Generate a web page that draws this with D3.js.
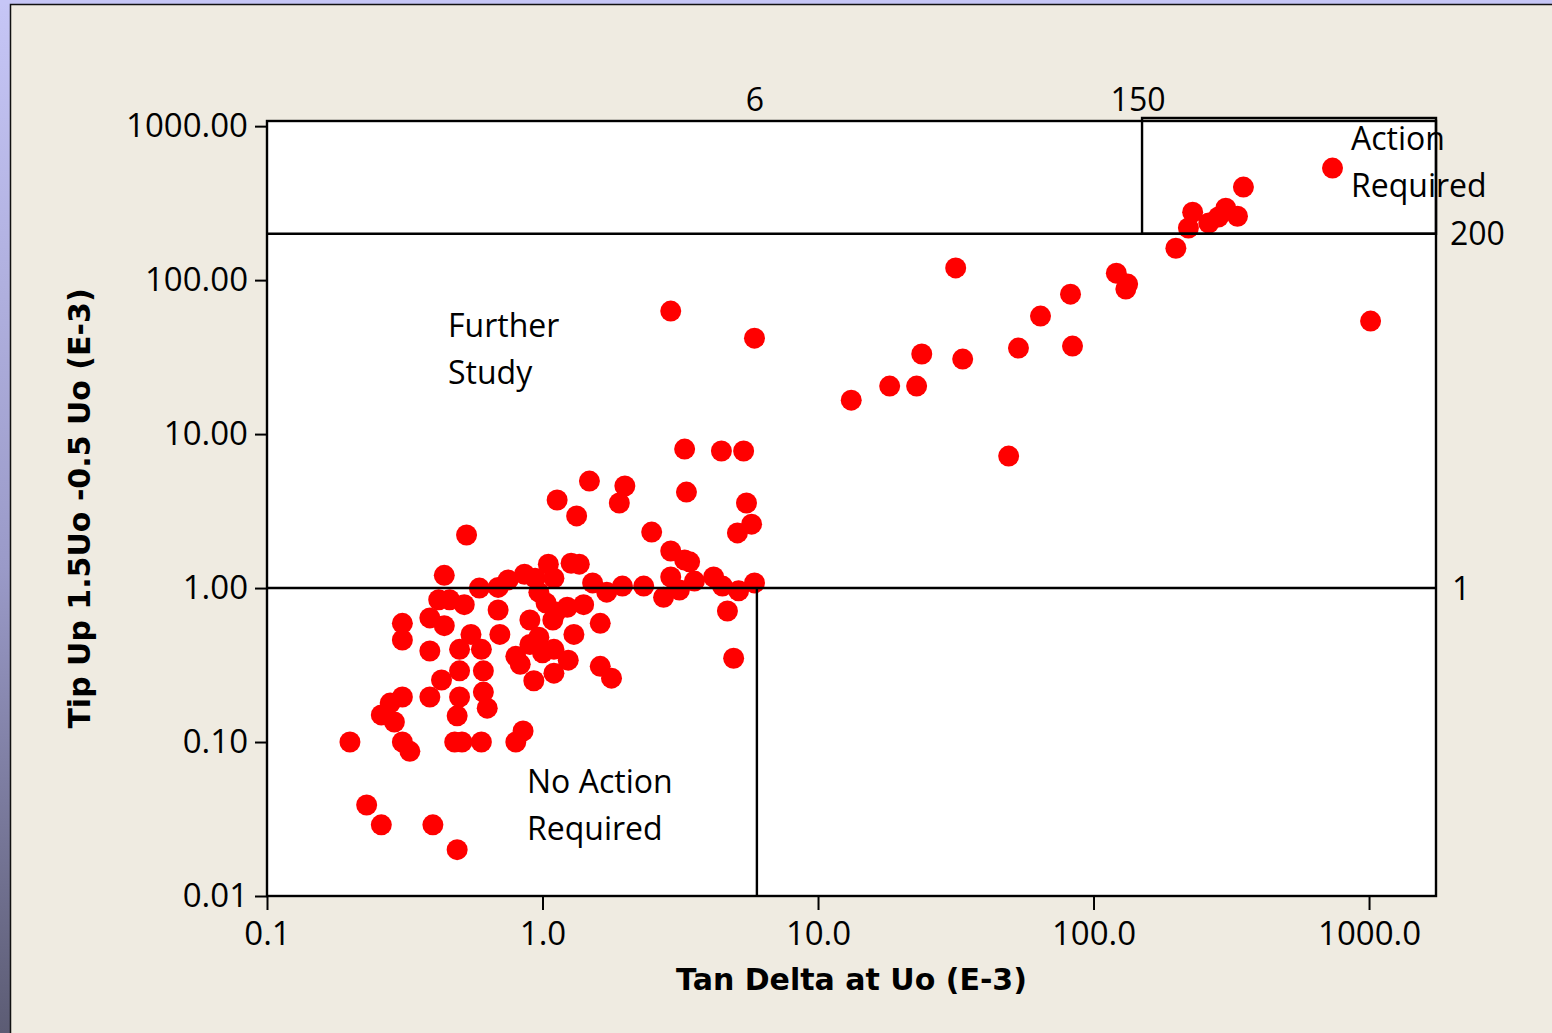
<!DOCTYPE html>
<html>
<head>
<meta charset="utf-8">
<script src="https://cdn.jsdelivr.net/npm/d3@7/dist/d3.min.js"></script>
<style>
  html, body { margin: 0; padding: 0; background: #EFEBE1; }
  svg { display: block; }
  .tick text { font-family: "Open Sans", "Noto Sans", sans-serif; font-size: 33px; fill: #000; }
  .tick line { stroke: #000; stroke-width: 2; }
  .note { font-family: "Open Sans", "Noto Sans", sans-serif; font-size: 32px; fill: #000; }
  .title { font-family: "DejaVu Sans", sans-serif; font-weight: bold; font-size: 30px; fill: #000; }
</style>
</head>
<body>
<svg id="chart" width="1552" height="1033"></svg>
<script>
// Tan delta at Uo (E-3) and tip up 1.5Uo - 0.5Uo (E-3), one entry per measured item
const tanDelta = [
  0.20, 0.23, 0.26, 0.26, 0.29, 0.28, 0.31, 0.31, 0.33, 0.31,
  0.31, 0.39, 0.39, 0.39, 0.40, 0.43, 0.44, 0.42, 0.46, 0.52,
  0.44, 0.55, 0.50, 0.60, 0.50, 0.61, 0.50, 0.61, 0.63, 0.49,
  0.48, 0.51, 0.60, 0.49, 0.53, 0.59, 0.69, 0.75, 0.69, 0.70,
  0.80, 0.85, 0.80, 0.83, 0.86, 0.94, 1.05, 1.27, 1.36, 1.10,
  0.97, 1.03, 1.12, 1.23, 1.41, 0.90, 1.09, 1.30, 1.62, 0.97,
  0.90, 1.10, 1.00, 1.24, 1.10, 0.93, 1.62, 1.78, 1.52, 1.71,
  1.95, 2.33, 2.92, 2.75, 3.14, 3.56, 4.18, 4.50, 5.15, 5.88,
  4.69, 4.94, 2.92, 3.28, 3.42, 2.49, 1.13, 1.33, 1.48, 1.99,
  1.90, 3.33, 3.28, 4.46, 5.37, 5.50, 5.74, 5.10, 2.92, 5.88,
  13.2, 18.2, 22.8, 23.8, 33.5, 31.6, 49.2, 53.4, 64.2, 83.9,
  82.5, 121, 133, 131, 199, 221, 229, 262, 284, 302,
  333, 350, 737, 1013
];
const tipUp = [
  0.100, 0.039, 0.029, 0.150, 0.135, 0.179, 0.196, 0.100, 0.087, 0.59,
  0.46, 0.64, 0.39, 0.196, 0.029, 0.253, 1.21, 0.84, 0.84, 0.78,
  0.57, 0.50, 0.40, 0.40, 0.29, 0.29, 0.196, 0.211, 0.166, 0.148,
  0.100, 0.100, 0.100, 0.020, 2.21, 1.00, 1.01, 1.13, 0.72, 0.50,
  0.100, 0.118, 0.36, 0.32, 1.23, 1.16, 1.43, 1.45, 1.43, 1.16,
  0.94, 0.80, 0.70, 0.75, 0.78, 0.62, 0.62, 0.50, 0.59, 0.48,
  0.43, 0.40, 0.38, 0.34, 0.28, 0.25, 0.31, 0.26, 1.08, 0.94,
  1.03, 1.03, 1.18, 0.87, 0.97, 1.11, 1.18, 1.03, 0.96, 1.08,
  0.71, 0.35, 1.74, 1.52, 1.48, 2.31, 3.73, 2.94, 4.95, 4.60,
  3.57, 4.20, 7.99, 7.76, 7.76, 3.57, 2.60, 2.28, 62.9, 42.0,
  16.6, 20.5, 20.5, 33.1, 30.7, 120, 7.2, 36.2, 58.4, 37.3,
  81.1, 111, 94.2, 87.4, 161, 218, 276, 235, 257, 293,
  260, 402, 534, 54.2
];

// Axis ticks and their printed labels
const xTickValues = [0.1, 1, 10, 100, 1000];
const xTickLabels = ["0.1", "1.0", "10.0", "100.0", "1000.0"];
const yTickValues = [0.01, 0.1, 1, 10, 100, 1000];
const yTickLabels = ["0.01", "0.10", "1.00", "10.00", "100.00", "1000.00"];

// Decision limits
const tanDeltaLimits = [6, 150];
const tipUpLimits = [1, 200];
const actionBoxTop = 1130;

const xDomain = [0.1, 1750];
const yDomain = [0.01, 1080];

const W = 1552, H = 1033;
const plot = { left: 267, right: 1436, top: 121, bottom: 896 };

const svg = d3.select("#chart");
const defs = svg.append("defs");
const grad = defs.append("linearGradient").attr("id", "edge").attr("x1", 0).attr("y1", 0).attr("x2", 0).attr("y2", 1);
grad.append("stop").attr("offset", "0%").attr("stop-color", "#C6C6F6");
grad.append("stop").attr("offset", "55%").attr("stop-color", "#9A9AC8");
grad.append("stop").attr("offset", "100%").attr("stop-color", "#5C5C74");

// Slide frame
svg.append("rect").attr("x", 0).attr("y", 0).attr("width", W).attr("height", H).attr("fill", "url(#edge)");
svg.append("rect").attr("x", 0).attr("y", 0).attr("width", W).attr("height", 5).attr("fill", "#C6C6F6");
svg.append("rect").attr("x", 10.5).attr("y", 4.5).attr("width", W).attr("height", H)
  .attr("fill", "#EFEBE1").attr("stroke", "#111").attr("stroke-width", 1.5);

const x = d3.scaleLog().domain(xDomain).range([plot.left, plot.right]);
const y = d3.scaleLog().domain(yDomain).range([plot.bottom, plot.top]);

// Plot area
svg.append("rect").attr("x", plot.left).attr("y", plot.top)
  .attr("width", plot.right - plot.left).attr("height", plot.bottom - plot.top)
  .attr("fill", "#fff");

// Data points
svg.append("g").selectAll("circle")
  .data(tanDelta.map((d, i) => [d, tipUp[i]]))
  .join("circle")
  .attr("cx", d => x(d[0]))
  .attr("cy", d => y(d[1]))
  .attr("r", 10.5)
  .attr("fill", "#FF0000");

// Zone boundaries
const zones = svg.append("g").attr("stroke", "#000").attr("stroke-width", 2.4).attr("fill", "none");
zones.append("line").attr("x1", x(xDomain[0])).attr("x2", x(xDomain[1]))
  .attr("y1", y(tipUpLimits[1])).attr("y2", y(tipUpLimits[1]));
zones.append("line").attr("x1", x(xDomain[0])).attr("x2", x(xDomain[1]))
  .attr("y1", y(tipUpLimits[0])).attr("y2", y(tipUpLimits[0]));
zones.append("line").attr("x1", x(tanDeltaLimits[0])).attr("x2", x(tanDeltaLimits[0]))
  .attr("y1", y(tipUpLimits[0])).attr("y2", y(yDomain[0]));
zones.append("rect").attr("x", x(tanDeltaLimits[1])).attr("y", y(actionBoxTop))
  .attr("width", x(xDomain[1]) - x(tanDeltaLimits[1]))
  .attr("height", y(tipUpLimits[1]) - y(actionBoxTop));

// Plot border
svg.append("rect").attr("x", plot.left).attr("y", plot.top)
  .attr("width", plot.right - plot.left).attr("height", plot.bottom - plot.top)
  .attr("fill", "none").attr("stroke", "#000").attr("stroke-width", 2.4);

// Axes
const xAxis = d3.axisBottom(x).tickValues(xTickValues)
  .tickFormat((d, i) => xTickLabels[i]).tickSize(14).tickPadding(12);
svg.append("g").attr("transform", `translate(0,${plot.bottom})`).call(xAxis)
  .call(g => g.select(".domain").remove());

const yAxis = d3.axisLeft(y).tickValues(yTickValues)
  .tickFormat((d, i) => yTickLabels[i]).tickSize(12).tickPadding(7);
svg.append("g").attr("transform", `translate(${plot.left},0)`).call(yAxis)
  .call(g => g.select(".domain").remove());

// Limit values printed beside the zone lines
const notes = svg.append("g");
notes.append("text").attr("class", "note").attr("text-anchor", "middle")
  .attr("x", x(tanDeltaLimits[0]) - 2).attr("y", plot.top - 10).text(tanDeltaLimits[0]);
notes.append("text").attr("class", "note").attr("text-anchor", "middle")
  .attr("x", x(tanDeltaLimits[1]) - 4).attr("y", plot.top - 10).text(tanDeltaLimits[1]);
notes.append("text").attr("class", "note").attr("x", plot.right + 14)
  .attr("y", y(tipUpLimits[1])).attr("dy", "0.36em").text(tipUpLimits[1]);
notes.append("text").attr("class", "note").attr("x", plot.right + 16)
  .attr("y", y(tipUpLimits[0])).attr("dy", "0.36em").text(tipUpLimits[0]);

// Zone names
function zoneLabel(lines, px, py) {
  const t = notes.append("text").attr("class", "note").attr("x", px).attr("y", py);
  lines.forEach((s, i) => t.append("tspan").attr("x", px).attr("dy", i === 0 ? 0 : 47).text(s));
}
zoneLabel(["Further", "Study"], 448, 337);
zoneLabel(["No Action", "Required"], 527, 793);
zoneLabel(["Action", "Required"], 1351, 150);

// Axis titles
svg.append("text").attr("class", "title").attr("text-anchor", "middle")
  .attr("x", (plot.left + plot.right) / 2).attr("y", 990).text("Tan Delta at Uo (E-3)");
svg.append("text").attr("class", "title").attr("text-anchor", "middle")
  .attr("transform", `translate(90,${(plot.top + plot.bottom) / 2}) rotate(-90)`)
  .text("Tip Up 1.5Uo -0.5 Uo (E-3)");
</script>
</body>
</html>
